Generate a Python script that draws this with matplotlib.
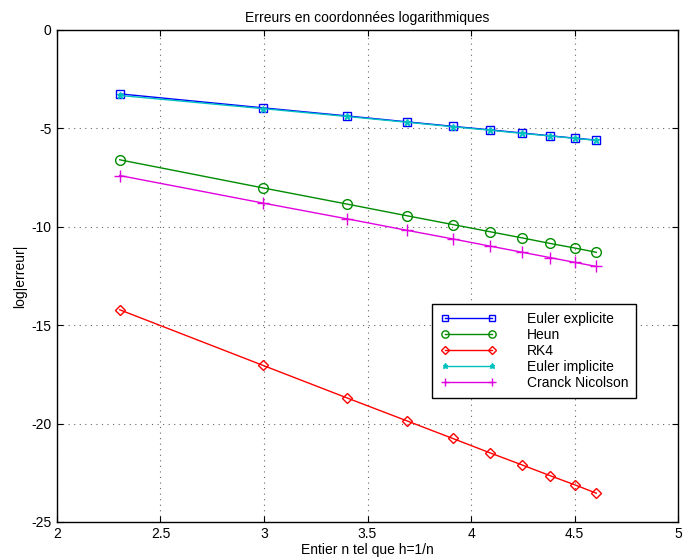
import matplotlib
matplotlib.use('Agg')
from matplotlib import pyplot as plt

plt.rcParams['font.family'] = ['Liberation Sans', 'DejaVu Sans']
plt.rcParams['axes.unicode_minus'] = False

# log(n) pour n = 10, 20, ..., 100
logn = [2.303, 2.996, 3.401, 3.689, 3.912, 4.094, 4.248, 4.382, 4.500, 4.605]

err_euler_exp = [-3.25, -3.96, -4.37, -4.67, -4.90, -5.08, -5.24, -5.38, -5.50, -5.60]
err_heun = [-6.60, -8.03, -8.85, -9.44, -9.89, -10.26, -10.57, -10.85, -11.08, -11.30]
err_rk4 = [-14.22, -17.05, -18.70, -19.86, -20.76, -21.50, -22.11, -22.65, -23.11, -23.54]
err_euler_imp = [-3.33, -4.00, -4.40, -4.69, -4.92, -5.10, -5.26, -5.39, -5.51, -5.61]
err_cn = [-7.40, -8.80, -9.60, -10.18, -10.62, -10.99, -11.30, -11.57, -11.81, -12.02]

labels = ['Euler explicite', 'Heun', 'RK4', 'Euler implicite', 'Cranck Nicolson']

fig = plt.figure(figsize=(6.84, 5.6), dpi=100)
ax = fig.add_axes([0.0833, 0.068, 0.908, 0.8786])

ax.plot(logn, err_euler_exp, color='#0000ff', marker='s', mfc='none', ms=5.5, lw=1, label=labels[0])
ax.plot(logn, err_heun, color='#008c00', marker='o', mfc='none', ms=7, lw=1, label=labels[1])
ax.plot(logn, err_rk4, color='#ff0000', marker='D', mfc='none', ms=5.5, lw=1, label=labels[2])
ax.plot(logn, err_euler_imp, color='#00c0c0', marker='*', ms=5, lw=1, label=labels[3])
ax.plot(logn, err_cn, color='#e000e0', marker='+', ms=8, lw=1, label=labels[4])

ax.set_xlim(2, 5)
ax.set_ylim(-25, 0)
ax.set_xticks([2, 2.5, 3, 3.5, 4, 4.5, 5])
ax.set_xticklabels(['2', '2.5', '3', '3.5', '4', '4.5', '5'])
ax.set_yticks([-25, -20, -15, -10, -5, 0])
ax.grid(True, color='black', linestyle=(0, (1, 4)), linewidth=0.8, alpha=0.6)
ax.tick_params(direction='in', top=True, right=True, labelsize=10, length=4, pad=4)
for s in ax.spines.values():
    s.set_linewidth(1.0)

ax.set_title('Erreurs en coordonnées logarithmiques', fontsize=10, pad=6)
ax.set_xlabel('Entier n tel que h=1/n', fontsize=10, labelpad=1)
ax.set_ylabel('log|erreur|', fontsize=10, labelpad=3)

leg = ax.legend(loc='upper left', bbox_to_anchor=(0.604, 0.443), borderaxespad=0,
                numpoints=2, handlelength=4.0, fontsize=10, fancybox=False,
                framealpha=1, edgecolor='black', labelspacing=0.13,
                handletextpad=2.2, borderpad=0.6, markerscale=0.75)
leg.get_frame().set_linewidth(1.0)

plt.savefig('out.png', dpi=100)
